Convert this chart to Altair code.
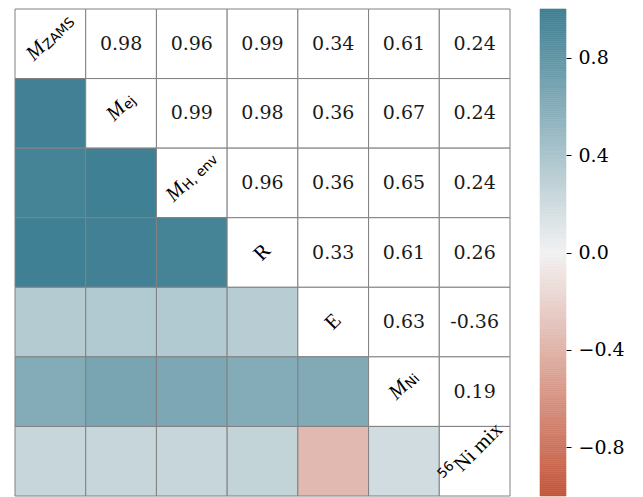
import altair as alt
import numpy as np
import pandas as pd

# ---- data ----
variables = ["M_ZAMS", "M_ej", "M_H,env", "R", "E", "M_Ni", "56Ni mix"]
label_main = ["M", "M", "M", "R", "E", "M", "Ni mix"]
label_small = ["ZAMS", "ej", "H, env", "", "", "Ni", "56"]
small_kind = ["sub", "sub", "sub", "", "", "sub", "sup"]

upper_rows = [
    [0.98, 0.96, 0.99, 0.34, 0.61, 0.24],
    [0.99, 0.98, 0.36, 0.67, 0.24],
    [0.96, 0.36, 0.65, 0.24],
    [0.33, 0.61, 0.26],
    [0.63, -0.36],
    [0.19],
]

colorbar_ticks = [-0.8, -0.4, 0.0, 0.4, 0.8]
palette = ["#c4553a", "#f2f2f2", "#3e7f93"]

# ---- build tables ----
n = len(variables)
corr = np.eye(n)
for i, row in enumerate(upper_rows):
    for k, v in enumerate(row):
        j = i + 1 + k
        corr[i, j] = v
        corr[j, i] = v

records = []
for i in range(n):
    for j in range(n):
        records.append(dict(row=variables[i], col=variables[j], ri=i, cj=j,
                            r=float(corr[i, j]), label=f"{corr[i, j]:.2f}"))
cells = pd.DataFrame(records)

diag = pd.DataFrame({"row": variables, "col": variables, "idx": list(range(n)),
                     "main": label_main, "small": label_small})

cscale = alt.Scale(domain=[-1, 0, 1], range=palette, interpolate="rgb")
X = alt.X("col:N", sort=variables, axis=None,
          scale=alt.Scale(paddingInner=0, paddingOuter=0))
Y = alt.Y("row:N", sort=variables, axis=None,
          scale=alt.Scale(paddingInner=0, paddingOuter=0))

base = alt.Chart(cells)
rects = base.mark_rect(stroke="#808080", strokeWidth=1).encode(
    x=X, y=Y,
    color=alt.condition("datum.ri > datum.cj",
                        alt.Color("r:Q", scale=cscale, legend=None),
                        alt.value("white")),
)
nums = base.transform_filter("datum.ri < datum.cj").mark_text(
    font="DejaVu Serif", fontSize=19, color="#1a1a1a"
).encode(x=X, y=Y, text="label:N")

# approximate glyph widths (em) for centring composed labels
serif_w = {"M": 0.833, "R": 0.667, "E": 0.611, "N": 0.722, "i": 0.278,
           " ": 0.25, "m": 0.778, "x": 0.5}
sans_w = {"Z": 0.685, "A": 0.684, "M": 0.863, "S": 0.635, "e": 0.615,
          "j": 0.278, "H": 0.752, ",": 0.318, " ": 0.318, "n": 0.634,
          "v": 0.592, "N": 0.748, "i": 0.278, "5": 0.636, "6": 0.636}
MAIN_FS = 21
SMALL_FS = 13.5
ANG = 315


def width(s, table, fs):
    return sum(table.get(c, 0.6) for c in s) * fs


diag_layers = []
for k in range(n):
    src = alt.Chart(diag).transform_filter(f"datum.idx == {k}")
    wm = width(label_main[k], serif_w, MAIN_FS)
    ws = width(label_small[k], sans_w, SMALL_FS)
    main_style = dict(font="Liberation Serif", fontSize=MAIN_FS, angle=ANG,
                      color="black",
                      fontStyle="italic" if label_main[k] == "M" else "normal")
    small_style = dict(font="DejaVu Sans", fontSize=SMALL_FS, angle=ANG,
                       color="black")
    if small_kind[k] == "sub":
        join = -(wm + ws) / 2 + wm + 4
        diag_layers.append(src.mark_text(align="right", dx=join, dy=-5, **main_style)
                           .encode(x=X, y=Y, text="main:N"))
        diag_layers.append(src.mark_text(align="left", dx=join + 0.5, dy=-1, **small_style)
                           .encode(x=X, y=Y, text="small:N"))
    elif small_kind[k] == "sup":
        join = -(wm + ws) / 2 + ws + 3
        diag_layers.append(src.mark_text(align="right", dx=join, dy=-14, **small_style)
                           .encode(x=X, y=Y, text="small:N"))
        diag_layers.append(src.mark_text(align="left", dx=join + 1, dy=-7, **main_style)
                           .encode(x=X, y=Y, text="main:N"))
    else:
        diag_layers.append(src.mark_text(align="center", dx=0, dy=0, **main_style)
                           .encode(x=X, y=Y, text="main:N"))

heat = alt.layer(rects, nums, *diag_layers).properties(width=495, height=487)

# ---- colorbar ----
edges = np.linspace(-1, 1, 257)
cb = pd.DataFrame({"v0": edges[:-1], "v1": edges[1:],
                   "v": (edges[:-1] + edges[1:]) / 2})
colorbar = alt.Chart(cb).mark_rect(strokeWidth=0.6).encode(
    x=alt.value(0), x2=alt.value(26),
    y=alt.Y("v0:Q", scale=alt.Scale(domain=[-1, 1], nice=False, zero=False),
            axis=alt.Axis(orient="right", values=colorbar_ticks, title=None,
                          domain=False, grid=False, tickSize=5, tickWidth=1,
                          tickColor="black", labelFont="DejaVu Serif",
                          labelFontSize=19, labelColor="black", labelPadding=7,
                          labelExpr="replace(format(datum.value, '.1f'), '-', '\u2212')")),
    y2="v1:Q",
    color=alt.Color("v:Q", scale=cscale, legend=None),
    stroke=alt.Stroke("v:Q", scale=cscale, legend=None),
).properties(width=26, height=487)

chart = alt.hconcat(heat, colorbar, spacing=28).properties(
    padding={"left": 6, "top": 0, "right": 0, "bottom": 0}
).configure_view(stroke=None)

chart.save("out.html", embed_options={"renderer": "svg", "actions": False})
